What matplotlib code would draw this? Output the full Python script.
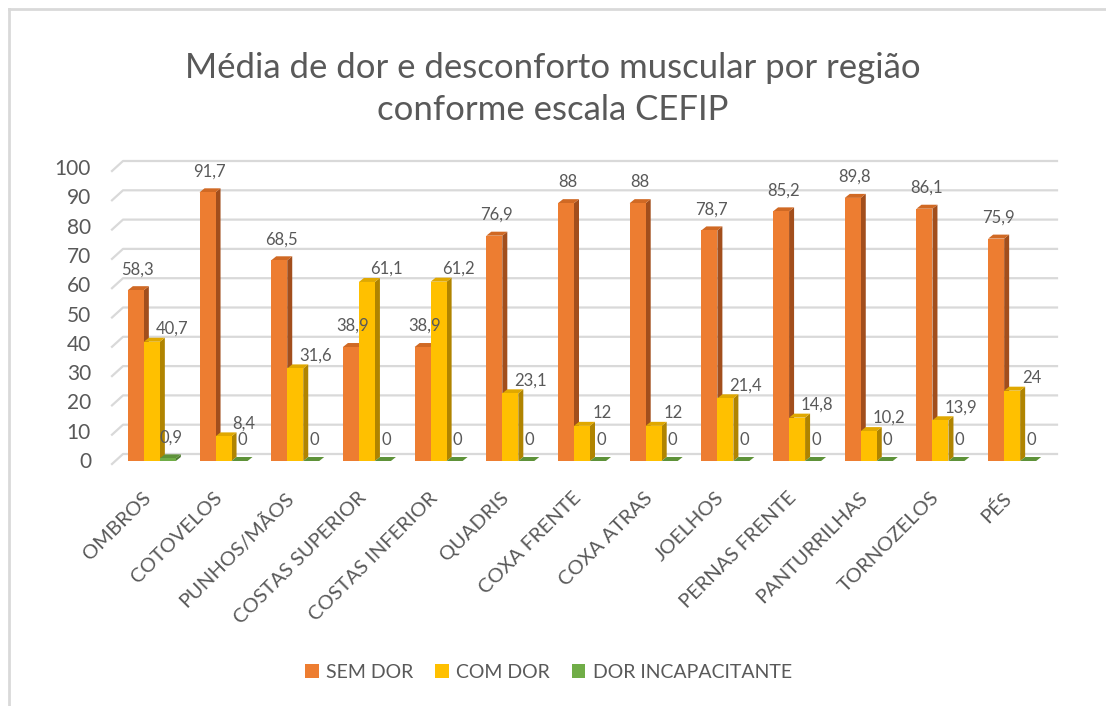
import numpy as np
import matplotlib.pyplot as plt
from matplotlib.patches import Polygon, Patch
from matplotlib.lines import Line2D

plt.rcParams['font.family'] = ['Lato', 'DejaVu Sans']

regioes = ['OMBROS', 'COTOVELOS', 'PUNHOS/MÃOS', 'COSTAS SUPERIOR', 'COSTAS INFERIOR',
           'QUADRIS', 'COXA FRENTE', 'COXA ATRAS', 'JOELHOS', 'PERNAS FRENTE',
           'PANTURRILHAS', 'TORNOZELOS', 'PÉS']
sem_dor = [58.3, 91.7, 68.5, 38.9, 38.9, 76.9, 88, 88, 78.7, 85.2, 89.8, 86.1, 75.9]
com_dor = [40.7, 8.4, 31.6, 61.1, 61.2, 23.1, 12, 12, 21.4, 14.8, 10.2, 13.9, 24]
dor_incap = [0.9, 0, 0, 0, 0, 0, 0, 0, 0, 0, 0, 0, 0]
series_names = ['SEM DOR', 'COM DOR', 'DOR INCAPACITANTE']
yticks = np.arange(0, 101, 10)

front = ['#ED7D31', '#FFC000', '#70AD47']
side = ['#A24E1C', '#B08400', '#4E7A31']
top = ['#D06924', '#E0A800', '#5E9239']
text_col = '#595959'

W, H = 1106, 706
fig = plt.figure(figsize=(W / 100, H / 100), dpi=100)

# axes box in pixels (origin top-left)
L, R, T, B = 100, 1070, 150, 480
sx = 932 / 13.0          # px per category
sy = 293 / 100.0         # px per unit
x0px, y0px = 116, 461    # pixel of x=-0.5 and y=0

ax = fig.add_axes([L / W, 1 - B / H, (R - L) / W, (B - T) / H])
ax.set_xlim(-0.5 - (x0px - L) / sx, 12.5 + (R - 1048) / sx)
ax.set_ylim(-(B - y0px) / sy, 100 + (y0px - 293 - T) / sy)
ax.axis('off')


def px2x(p):
    return -0.5 + (p - x0px) / sx


def dx(p):
    return p / sx


def dy(p):
    return p / sy


# gridlines with left-wall diagonal
for v in yticks:
    xs = [px2x(112), px2x(123), px2x(1057)]
    ys = [v - dy(3), v + dy(7), v + dy(7)]
    ax.add_line(Line2D(xs, ys, color='#d9d9d9', lw=1.6, zorder=1))
    ax.text(px2x(91), v - dy(1), str(v), ha='right', va='center',
            fontsize=15, color=text_col)

# 3d-ish bars
w = 16 / sx
bdx, bdy = dx(5), dy(4)
data = [sem_dor, com_dor, dor_incap]
lab_off = [(2, 21), (20, 13), (3, 21)]
for j, vals in enumerate(data):
    for i, v in enumerate(vals):
        xl = i + (j - 1) * w - w / 2
        xr = xl + w
        z = 2 + j
        ax.add_patch(Polygon([(xr, 0), (xr + bdx, bdy), (xr + bdx, v + bdy), (xr, v)],
                             closed=True, fc=side[j], ec='none', zorder=z))
        ax.add_patch(Polygon([(xl, v), (xl + bdx, v + bdy), (xr + bdx, v + bdy), (xr, v)],
                             closed=True, fc=top[j], ec='none', zorder=z))
        if v > 0:
            ax.add_patch(Polygon([(xl, 0), (xr, 0), (xr, v), (xl, v)],
                                 closed=True, fc=front[j], ec='none', zorder=z))
        lab = ('%g' % v).replace('.', ',')
        ox, oy = lab_off[j]
        ax.text((xl + xr) / 2 + dx(ox), v + dy(oy), lab, ha='center', va='center',
                fontsize=12, color=text_col, zorder=10)

# category labels
for i, name in enumerate(regioes):
    ax.text(i - dx(4), -dy(34), name, rotation=45, rotation_mode='anchor',
            ha='right', va='center', fontsize=14.5, color=text_col)

fig.text(0.5, 1 - 89 / H, 'Média de dor e desconforto muscular por região\nconforme escala CEFIP',
         ha='center', va='center', fontsize=25, color=text_col, linespacing=1.35)

handles = [Patch(facecolor=c, edgecolor='none') for c in front]
fig.legend(handles, series_names, loc='center', bbox_to_anchor=(0.496, 1 - 672 / H),
           ncol=3, frameon=False, fontsize=14, handlelength=0.7, handleheight=0.7,
           handletextpad=0.4, columnspacing=1.1, labelcolor=text_col)

# chart frame (left and top edges)
fig.add_artist(Line2D([8.5 / W, 8.5 / W], [0, 1 - 8.5 / H], color='#d9d9d9', lw=2,
                      transform=fig.transFigure))
fig.add_artist(Line2D([8.5 / W, 1], [1 - 8.5 / H, 1 - 8.5 / H], color='#d9d9d9', lw=2,
                      transform=fig.transFigure))

fig.savefig('out.png', dpi=100, facecolor='white')
